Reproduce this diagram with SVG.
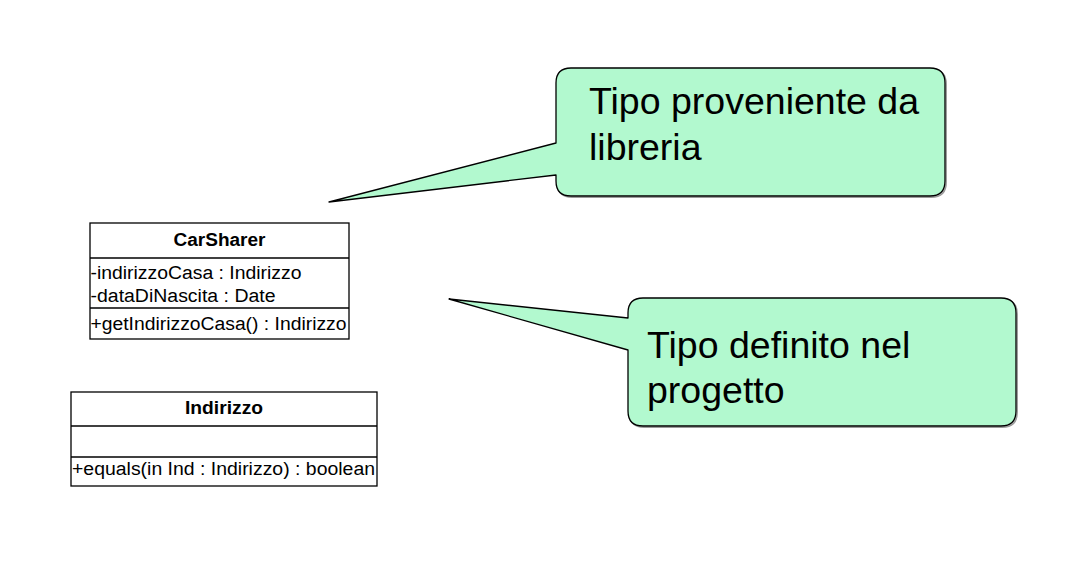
<svg xmlns="http://www.w3.org/2000/svg" width="1074" height="562" viewBox="0 0 1074 562">
  <style>
    .box { fill: #ffffff; stroke: #000000; stroke-width: 1.3; }
    .div { stroke: #000000; stroke-width: 1.3; fill: none; }
    .uml { font-family: "Liberation Sans", Arial, sans-serif; font-size: 18px; fill: #000000; }
    .title { font-weight: bold; text-anchor: middle; }
    .callout { fill: #b2f9cf; stroke: #000000; stroke-width: 1.3; stroke-linejoin: round; }
    .shadow { fill: none; stroke: #9a9a9a; stroke-width: 1.5; stroke-linejoin: round; }
    .ctext { font-family: "Liberation Sans", Arial, sans-serif; font-size: 37.5px; fill: #000000; }
  </style>
  <rect width="1074" height="562" fill="#ffffff"/>

  <g id="connectors"/>

  <g id="callout-libreria">
    <path class="shadow" transform="translate(1.2,1.2)" d="M 571,68 H 930 Q 945,68 945,83 V 181 Q 945,196 930,196 H 571 Q 556,196 556,181"/>
    <path class="callout" d="M 571,68 H 930 Q 945,68 945,83 V 181 Q 945,196 930,196 H 571 Q 556,196 556,181 V 175 L 329,202 L 556,143 V 83 Q 556,68 571,68 Z"/>
    <text class="ctext" x="589" y="114">Tipo proveniente da</text>
    <text class="ctext" x="589" y="160">libreria</text>
  </g>

  <g id="callout-progetto">
    <path class="shadow" transform="translate(1.2,1.2)" d="M 643,298 H 1001 Q 1016,298 1016,313 V 411 Q 1016,426 1001,426 H 643 Q 628,426 628,411"/>
    <path class="callout" d="M 643,298 H 1001 Q 1016,298 1016,313 V 411 Q 1016,426 1001,426 H 643 Q 628,426 628,411 V 350 L 449,299 L 628,318 V 313 Q 628,298 643,298 Z"/>
    <text class="ctext" x="647" y="358">Tipo definito nel</text>
    <text class="ctext" x="647" y="403">progetto</text>
  </g>

  <g id="class-carsharer">
    <rect class="box" x="90" y="223" width="259" height="116"/>
    <line class="div" x1="90" y1="258" x2="349" y2="258"/>
    <line class="div" x1="90" y1="308" x2="349" y2="308"/>
    <text class="uml title" x="219.5" y="246" textLength="92" lengthAdjust="spacingAndGlyphs">CarSharer</text>
    <text class="uml" x="90.5" y="278.5" textLength="211" lengthAdjust="spacingAndGlyphs">-indirizzoCasa : Indirizzo</text>
    <text class="uml" x="90.5" y="302" textLength="185" lengthAdjust="spacingAndGlyphs">-dataDiNascita : Date</text>
    <text class="uml" x="90.5" y="329.5" textLength="256" lengthAdjust="spacingAndGlyphs">+getIndirizzoCasa() : Indirizzo</text>
  </g>

  <g id="class-indirizzo">
    <rect class="box" x="71" y="392" width="306" height="94"/>
    <line class="div" x1="71" y1="426" x2="377" y2="426"/>
    <line class="div" x1="71" y1="457" x2="377" y2="457"/>
    <text class="uml title" x="224" y="414" textLength="78" lengthAdjust="spacingAndGlyphs">Indirizzo</text>
    <text class="uml" x="72" y="475" textLength="303" lengthAdjust="spacingAndGlyphs">+equals(in Ind : Indirizzo) : boolean</text>
  </g>
</svg>
